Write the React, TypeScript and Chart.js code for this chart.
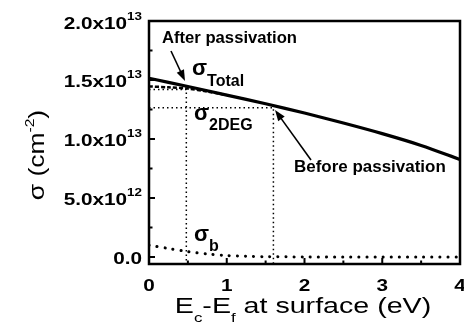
import React, { useEffect, useRef } from "react";
import { Chart, registerables } from "chart.js";

Chart.register(...registerables);

// ---- data ----
const totalX = [0, 0.5, 1, 1.5, 2, 2.5, 3, 3.5, 4];
const totalY = [15.15e12, 14.45e12, 13.72e12, 12.98e12, 12.2e12, 11.35e12, 10.45e12, 9.45e12, 8.25e12];

const afterX = [0, 0.25, 0.5, 0.75, 1.0];
const afterY = [14.45e12, 14.38e12, 14.27e12, 14.02e12, 13.72e12];

const bulkX = [0, 0.25, 0.5, 0.75, 1.0, 1.25, 1.5, 2, 2.5, 3, 3.5, 4];
const bulkY = [1.0e12, 0.72e12, 0.45e12, 0.25e12, 0.12e12, 0.05e12, 0.02e12, 0, 0, 0, 0, 0];

const guideX = [0.48, 1.6];
const guideY = [14.2e12, 12.65e12];

const xMin = 0;
const xMax = 4;
const yMin = -0.6e12;
const yMax = 2.0e13;

const xTickValues = [0, 1, 2, 3, 4];
const xTickLabels = ["0", "1", "2", "3", "4"];
const xMinorTicks = [0.5, 1.5, 2.5, 3.5];
const yTickValues = [0, 5e12, 1e13, 1.5e13, 2e13];
const yTickMantissas = ["0.0", "5.0x10", "1.0x10", "1.5x10", "2.0x10"];
const yTickExponents = ["", "12", "13", "13", "13"];
const yMinorTicks = [2.5e12, 7.5e12, 12.5e12, 17.5e12];

const FONT = "'Liberation Sans', Arial, Helvetica, sans-serif";

type Seg = { text: string; font: string; dy: number };

function richWidth(ctx: CanvasRenderingContext2D, segs: Seg[]) {
  let w = 0;
  for (const s of segs) {
    ctx.font = s.font;
    w += ctx.measureText(s.text).width;
  }
  return w;
}

function drawRich(
  ctx: CanvasRenderingContext2D,
  segs: Seg[],
  x: number,
  y: number,
  align: "left" | "center" | "right",
  sx = 1
) {
  const w = richWidth(ctx, segs) * sx;
  const startX = align === "left" ? x : align === "center" ? x - w / 2 : x - w;
  ctx.save();
  ctx.translate(startX, y);
  ctx.scale(sx, 1);
  ctx.textAlign = "left";
  ctx.textBaseline = "alphabetic";
  let cx = 0;
  for (const s of segs) {
    ctx.font = s.font;
    ctx.fillText(s.text, cx, s.dy);
    cx += ctx.measureText(s.text).width;
  }
  ctx.restore();
}

function arrow(ctx: CanvasRenderingContext2D, x1: number, y1: number, x2: number, y2: number) {
  const ang = Math.atan2(y2 - y1, x2 - x1);
  const len = 11;
  const half = 4;
  ctx.beginPath();
  ctx.lineWidth = 1.6;
  ctx.moveTo(x1, y1);
  ctx.lineTo(x2 - Math.cos(ang) * len * 0.8, y2 - Math.sin(ang) * len * 0.8);
  ctx.stroke();
  ctx.beginPath();
  ctx.moveTo(x2, y2);
  ctx.lineTo(x2 - Math.cos(ang) * len + Math.sin(ang) * half, y2 - Math.sin(ang) * len - Math.cos(ang) * half);
  ctx.lineTo(x2 - Math.cos(ang) * len - Math.sin(ang) * half, y2 - Math.sin(ang) * len + Math.cos(ang) * half);
  ctx.closePath();
  ctx.fill();
}

const decorPlugin = {
  id: "decor",
  afterDraw(chart: any) {
    const ctx: CanvasRenderingContext2D = chart.ctx;
    const xs = chart.scales.x;
    const ys = chart.scales.y;
    const a = chart.chartArea;
    ctx.save();
    ctx.fillStyle = "#000";
    ctx.strokeStyle = "#000";

    // frame
    ctx.lineWidth = 2.5;
    ctx.strokeRect(a.left, a.top, a.right - a.left, a.bottom - a.top);

    // ticks (inward)
    ctx.lineWidth = 2;
    ctx.beginPath();
    for (const v of yTickValues) {
      const p = ys.getPixelForValue(v);
      ctx.moveTo(a.left, p);
      ctx.lineTo(a.left + 6, p);
    }
    for (const v of yMinorTicks) {
      const p = ys.getPixelForValue(v);
      ctx.moveTo(a.left, p);
      ctx.lineTo(a.left + 3.5, p);
    }
    for (const v of xTickValues) {
      const p = xs.getPixelForValue(v);
      ctx.moveTo(p, a.bottom);
      ctx.lineTo(p, a.bottom - 6);
    }
    for (const v of xMinorTicks) {
      const p = xs.getPixelForValue(v);
      ctx.moveTo(p, a.bottom);
      ctx.lineTo(p, a.bottom - 3.5);
    }
    ctx.stroke();

    const TSX = 1.22;
    // y tick labels
    yTickValues.forEach((v, i) => {
      const p = ys.getPixelForValue(v);
      const segs: Seg[] = [{ text: yTickMantissas[i], font: `bold 17px ${FONT}`, dy: 0 }];
      if (yTickExponents[i]) segs.push({ text: yTickExponents[i], font: `bold 11px ${FONT}`, dy: -9 });
      drawRich(ctx, segs, a.left - 7, p + 7.5, "right", TSX);
    });

    // x tick labels
    xTickValues.forEach((v, i) => {
      drawRich(ctx, [{ text: xTickLabels[i], font: `bold 17px ${FONT}`, dy: 0 }], xs.getPixelForValue(v), a.bottom + 27, "center", TSX);
    });

    // x title
    const big = `22px ${FONT}`;
    const small = `13px ${FONT}`;
    drawRich(
      ctx,
      [
        { text: "E", font: big, dy: 0 },
        { text: "c", font: small, dy: 9 },
        { text: "-E", font: big, dy: 0 },
        { text: "f", font: small, dy: 9 },
        { text: " at surface (eV)", font: big, dy: 0 },
      ],
      303,
      313,
      "center",
      1.3
    );

    // y title
    ctx.save();
    ctx.translate(44, 155);
    ctx.rotate(-Math.PI / 2);
    drawRich(
      ctx,
      [
        { text: "\u03c3 (cm", font: big, dy: 0 },
        { text: "-2", font: small, dy: -10 },
        { text: ")", font: big, dy: 0 },
      ],
      0,
      0,
      "center",
      1.2
    );
    ctx.restore();

    // annotations
    const ann = `bold 16px ${FONT}`;
    const sig = `bold 22px ${FONT}`;
    const sub = `bold 16px ${FONT}`;
    drawRich(ctx, [{ text: "After passivation", font: ann, dy: 0 }], 162, 43, "left", 1.04);
    arrow(ctx, 171, 51, 185, 81);

    drawRich(ctx, [{ text: "\u03c3", font: sig, dy: 0 }, { text: "Total", font: sub, dy: 11 }], 192, 75, "left");
    drawRich(ctx, [{ text: "\u03c3", font: sig, dy: 0 }, { text: "2DEG", font: sub, dy: 10 }], 194, 120, "left");
    drawRich(ctx, [{ text: "\u03c3", font: sig, dy: 0 }, { text: "b", font: sub, dy: 10 }], 194, 241, "left");

    drawRich(ctx, [{ text: "Before passivation", font: ann, dy: 0 }], 294, 172, "left", 1.06);
    arrow(ctx, 311, 160, 275, 110);

    ctx.restore();
  },
};

function pts(xv: number[], yv: number[]) {
  return xv.map((x, i) => ({ x, y: yv[i] }));
}

export default function App() {
  const ref = useRef<HTMLCanvasElement>(null);
  useEffect(() => {
    if (!ref.current) return;
    const guide1 = [
      { x: xMin, y: guideY[0] },
      { x: guideX[0], y: guideY[0] },
      { x: guideX[0], y: yMin },
    ];
    const guide2 = [
      { x: xMin, y: guideY[1] },
      { x: guideX[1], y: guideY[1] },
      { x: guideX[1], y: yMin },
    ];
    const chart = new Chart(ref.current, {
      type: "scatter",
      data: {
        datasets: [
          { data: guide1, showLine: true, borderColor: "#000", borderWidth: 1.5, borderDash: [1.5, 3], pointRadius: 0, tension: 0 },
          { data: guide2, showLine: true, borderColor: "#000", borderWidth: 1.5, borderDash: [1.5, 3], pointRadius: 0, tension: 0 },
          { data: pts(bulkX, bulkY), showLine: true, borderColor: "#000", borderWidth: 3, borderDash: [0.1, 8], borderCapStyle: "round", pointRadius: 0, tension: 0.3 },
          { data: pts(afterX, afterY), showLine: true, borderColor: "#000", borderWidth: 2.5, borderDash: [4, 2], pointRadius: 0, tension: 0.3 },
          { data: pts(totalX, totalY), showLine: true, borderColor: "#000", borderWidth: 3.2, pointRadius: 0, tension: 0.3 },
        ],
      },
      options: {
        animation: false,
        responsive: true,
        maintainAspectRatio: false,
        layout: { padding: { left: 149, right: 4, top: 21, bottom: 71 } },
        plugins: { legend: { display: false }, tooltip: { enabled: false } },
        scales: {
          x: { type: "linear", min: xMin, max: xMax, display: false },
          y: { type: "linear", min: yMin, max: yMax, display: false },
        },
      },
      plugins: [decorPlugin],
    });
    return () => chart.destroy();
  }, []);
  return (
    <div style={{ position: "absolute", left: 0, top: 0, width: 464, height: 335, background: "#fff" }}>
      <canvas ref={ref} />
    </div>
  );
}
